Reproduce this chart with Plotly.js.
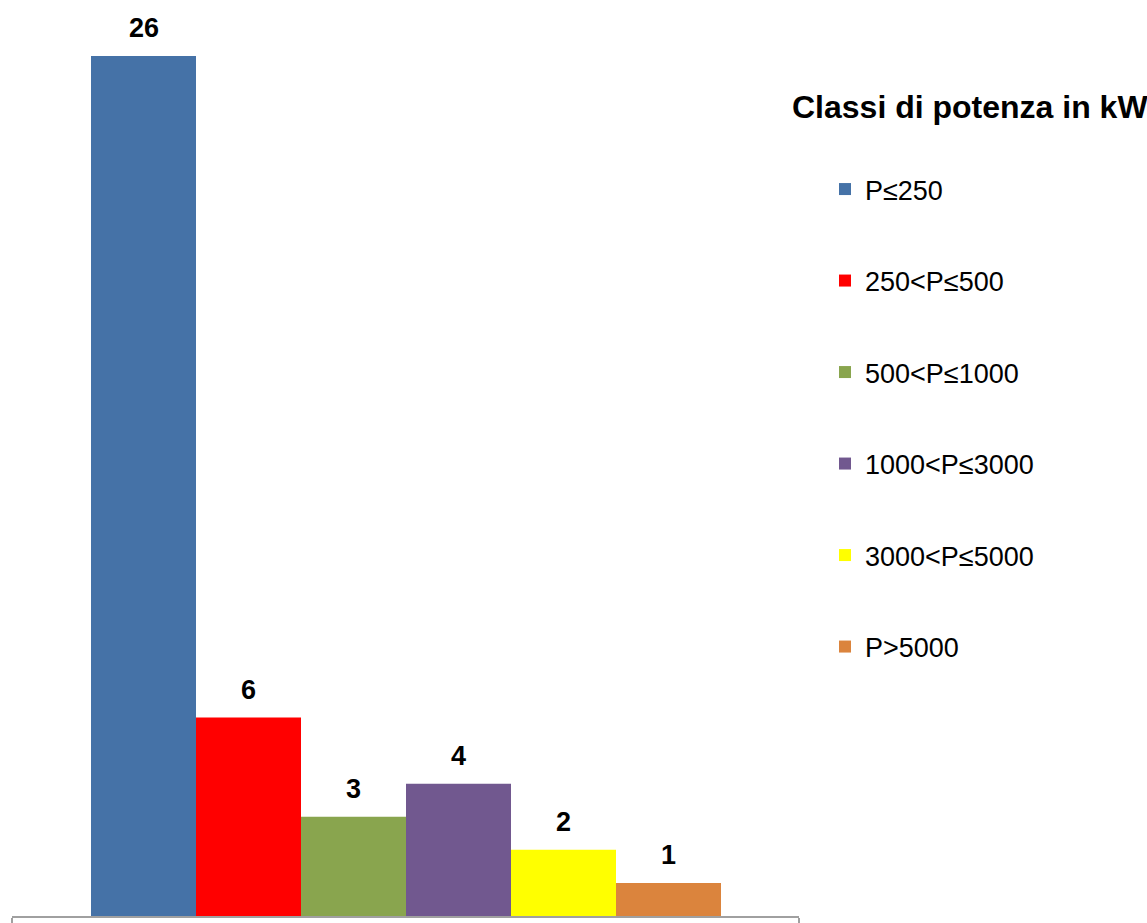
<!DOCTYPE html>
<html>
<head>
<meta charset="utf-8">
<script src="https://cdn.plot.ly/plotly-3.0.1.min.js"></script>
<style>html,body{margin:0;padding:0;background:#fff;}#chart{width:1147px;height:923px;}</style>
</head>
<body>
<div id="chart"></div>
<script>
const categories = ["P≤250", "250<P≤500", "500<P≤1000", "1000<P≤3000", "3000<P≤5000", "P>5000"];
const counts = [26, 6, 3, 4, 2, 1];
const colors = ["#4572A7", "#FF0000", "#89A54E", "#71588F", "#FFFF00", "#DB843D"];
const legendTitle = "Classi di potenza in kW";

const FONT = "Liberation Sans, Arial, sans-serif";
const xRange = [-1.2524, 6.2429];

const traces = categories.map((c, i) => ({
  type: "bar",
  name: c,
  x: [i],
  y: [counts[i]],
  width: [1],
  marker: {color: colors[i], line: {width: 0}},
  legendgroup: "g" + i,
  hoverinfo: "name+y"
}));

const annotations = categories.map((c, i) => ({
  x: i, y: counts[i], xref: "x", yref: "y",
  text: "<b>" + counts[i] + "</b>",
  showarrow: false, yanchor: "middle", yshift: 28,
  font: {family: FONT, size: 27, color: "#000"}
}));
annotations.push({
  xref: "paper", yref: "paper", x: (790 - 12) / 787, y: 1 - (107 - 23) / 893,
  xanchor: "left", yanchor: "middle",
  text: "<b>" + legendTitle + "</b>", showarrow: false,
  font: {family: FONT, size: 32, color: "#000"}
});

const layout = {
  width: 1147, height: 923,
  margin: {l: 12, r: 348, t: 23, b: 7},
  paper_bgcolor: "#fff", plot_bgcolor: "#fff",
  barmode: "overlay",
  showlegend: true,
  legend: {
    xref: "paper", yref: "paper",
    x: (825 - 12) / 787, y: 1 - (165 - 23) / 893, xanchor: "left", yanchor: "top",
    font: {family: FONT, size: 27, color: "#000"},
    tracegroupgap: 53.4, traceorder: "grouped",
    itemclick: false, itemdoubleclick: false
  },
  xaxis: {
    range: xRange, showgrid: false, zeroline: false,
    showline: true, linecolor: "#A0A0A0", linewidth: 2,
    ticks: "outside", tickvals: xRange, ticklen: 6, tickcolor: "#A0A0A0", tickwidth: 2,
    showticklabels: false, fixedrange: true
  },
  yaxis: {
    range: [0, 27], showgrid: false, zeroline: false, showline: false,
    showticklabels: false, ticks: "", fixedrange: true
  },
  annotations: annotations
};

Plotly.newPlot("chart", traces, layout, {displayModeBar: false, staticPlot: true});
</script>
</body>
</html>
